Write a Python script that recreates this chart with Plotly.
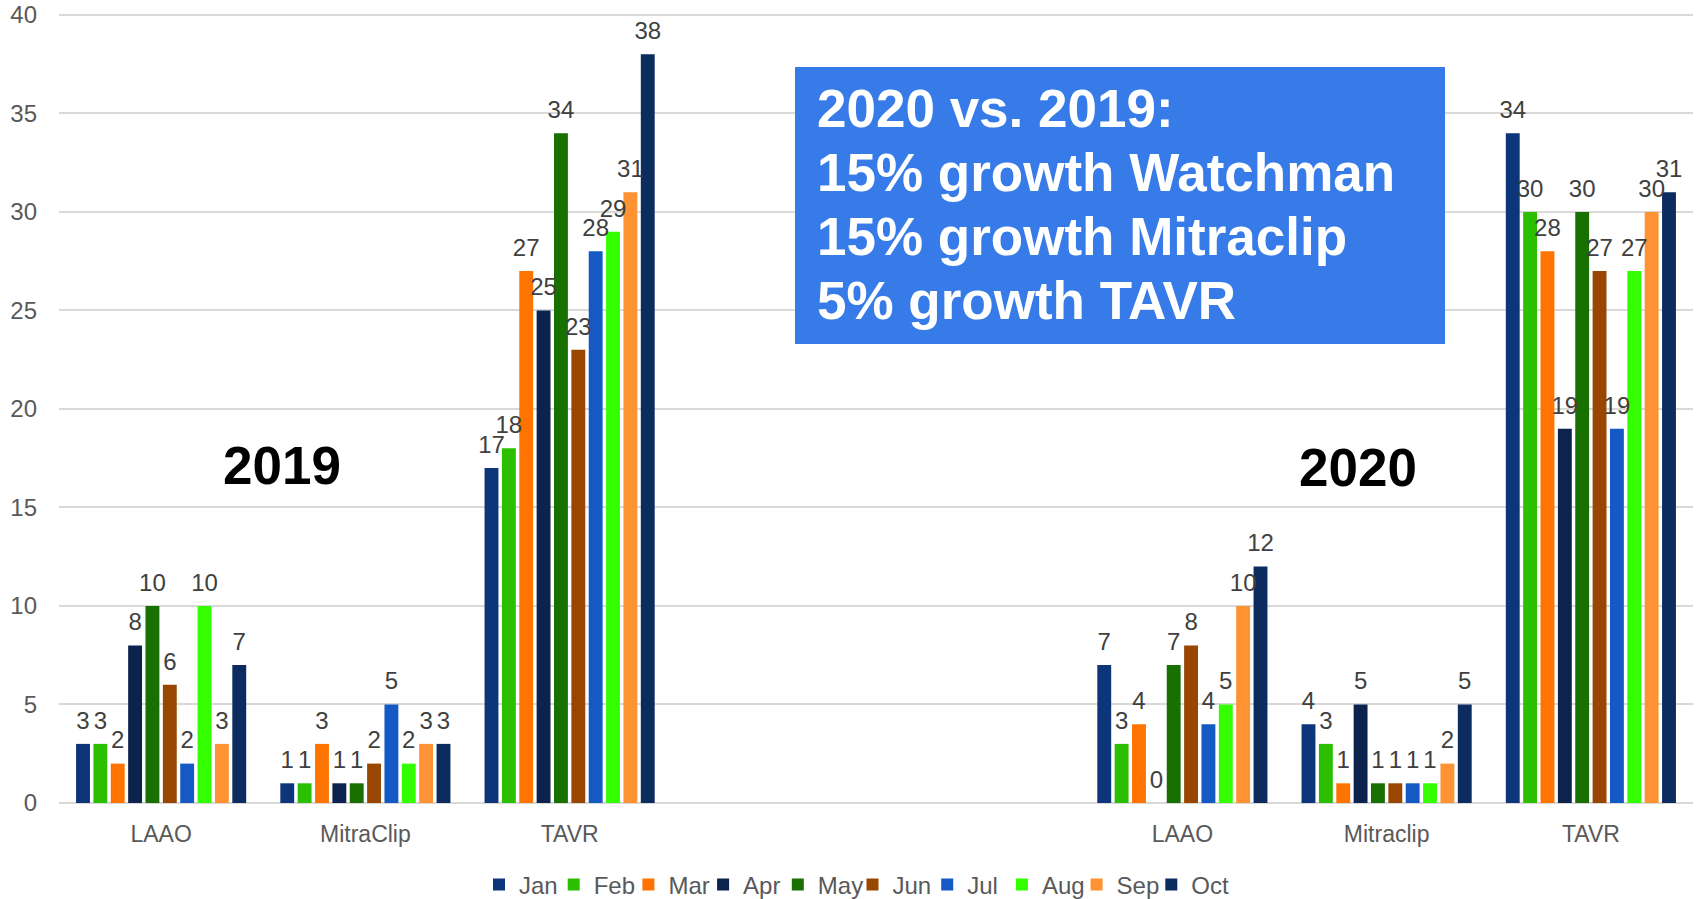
import plotly.graph_objects as go

categories = ["LAAO", "MitraClip", "TAVR", "", "", "LAAO", "Mitraclip", "TAVR"]
bar_positions = [0, 1, 2, 5, 6, 7]
months = ["Jan", "Feb", "Mar", "Apr", "May", "Jun", "Jul", "Aug", "Sep", "Oct"]

# values per month across: 2019 LAAO, 2019 MitraClip, 2019 TAVR, 2020 LAAO, 2020 Mitraclip, 2020 TAVR
jan = [3, 1, 17, 7, 4, 34]
feb = [3, 1, 18, 3, 3, 30]
mar = [2, 3, 27, 4, 1, 28]
apr = [8, 1, 25, 0, 5, 19]
may = [10, 1, 34, 7, 1, 30]
jun = [6, 2, 23, 8, 1, 27]
jul = [2, 5, 28, 4, 1, 19]
aug = [10, 2, 29, 5, 1, 27]
sep = [3, 3, 31, 10, 2, 30]
oct_ = [7, 3, 38, 12, 5, 31]
series = [jan, feb, mar, apr, may, jun, jul, aug, sep, oct_]

colors = ["#0D3579", "#2BBF00", "#FF7400", "#0B234D", "#177000",
          "#994700", "#1459C4", "#33FF00", "#FF9232", "#0C2B5F"]

year_labels = ["2019", "2020"]
box_lines = ["2020 vs. 2019:", "15% growth Watchman", "15% growth Mitraclip", "5% growth TAVR"]

FONT = "Liberation Sans, Arial, sans-serif"

fig = go.Figure()
for m, vals, c in zip(months, series, colors):
    fig.add_trace(go.Bar(
        x=bar_positions, y=vals, name=m, offsetgroup=m, legendgroup=m,
        marker=dict(color=c, line=dict(width=0)),
    ))
# blank spacer entry so the last legend label is not clipped
fig.add_trace(go.Bar(x=[None], y=[None], name=" ", showlegend=True, hoverinfo="skip",
                     marker=dict(color="rgba(255,255,255,0)", line=dict(width=0))))
for m, vals in zip(months, series):
    fig.add_trace(go.Scatter(
        x=bar_positions, y=vals, mode="markers+text", offsetgroup=m, legendgroup=m,
        orientation="v", showlegend=False, hoverinfo="skip", cliponaxis=False,
        marker=dict(size=13, opacity=0, color="white"),
        text=[str(v) for v in vals], textposition="top center",
        textfont=dict(family=FONT, size=24, color="#404040"),
    ))

W, H = 1696, 899
YMAX = 40.25
PL, PR, PB = 59, 1693, 803          # plot area in page pixels
PT = PB - (PB - 15) * YMAX / 40.0   # so that y=40 sits at page y=15
L, R, T, B = PL, W - PR, PT, H - PB
pw, ph = PR - PL, PB - PT

def px(x):
    return (x - PL) / pw

def py(y):
    return (PB - y) / ph

annotations = [
    dict(text="<b>%s</b>" % year_labels[0], x=px(282), y=py(466), xref="paper", yref="paper",
         xanchor="center", yanchor="middle", showarrow=False,
         font=dict(family=FONT, size=53, color="black")),
    dict(text="<b>%s</b>" % year_labels[1], x=px(1358), y=py(468), xref="paper", yref="paper",
         xanchor="center", yanchor="middle", showarrow=False,
         font=dict(family=FONT, size=53, color="black")),
]
line_y = [109, 173, 237, 301]
for t, yy in zip(box_lines, line_y):
    annotations.append(dict(text="<b>%s</b>" % t, x=px(815), y=py(yy), xref="paper", yref="paper",
                            xanchor="left", yanchor="middle", showarrow=False,
                            font=dict(family=FONT, size=53, color="white")))

fig.update_layout(
    width=W, height=H,
    margin=dict(l=L, r=R, t=T, b=B, autoexpand=False),
    paper_bgcolor="white", plot_bgcolor="white",
    barmode="group", bargap=0.15, bargroupgap=0.2,
    scattermode="group", scattergap=0.15,
    showlegend=True,
    legend=dict(orientation="h", x=px(890), xanchor="center",
                yref="container", y=(H - 885) / H, yanchor="middle",
                font=dict(family=FONT, size=24, color="#595959"),
                itemwidth=30, entrywidth=29.7, traceorder="normal"),
    xaxis=dict(tickmode="array", tickvals=list(range(len(categories))), ticktext=categories,
               range=[-0.5, 7.5], showgrid=False, zeroline=False, showline=False,
               ticks="", ticklabelstandoff=15, automargin=False,
               tickfont=dict(family=FONT, size=23, color="#595959")),
    yaxis=dict(range=[0, YMAX], tickmode="array", tickvals=[0, 5, 10, 15, 20, 25, 30, 35, 40],
               showgrid=True, gridcolor="#D9D9D9", gridwidth=2,
               zeroline=True, zerolinecolor="#D9D9D9", zerolinewidth=2, showline=False,
               ticks="", ticklabelstandoff=21, automargin=False, ticklabeloverflow="allow",
               tickfont=dict(family=FONT, size=24, color="#595959")),
    shapes=[dict(type="rect", xref="paper", yref="paper", x0=px(795), x1=px(1445),
                 y0=py(344), y1=py(67), fillcolor="#377BE8", line=dict(width=0), layer="above")],
    annotations=annotations,
)

fig.write_html("out.html", config={"displayModeBar": False},
               post_script="document.body.style.margin='0';")
